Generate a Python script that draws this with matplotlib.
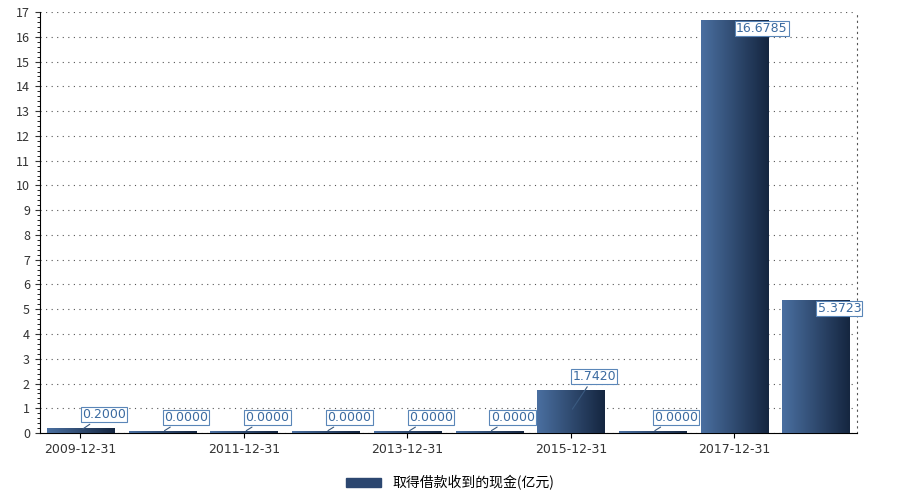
import numpy as np
import matplotlib.pyplot as plt
from matplotlib.colors import LinearSegmentedColormap
from matplotlib.ticker import MultipleLocator

plt.rcParams['font.family'] = ['Noto Sans CJK SC', 'DejaVu Sans']

dates = ["2009-12-31", "2010-12-31", "2011-12-31", "2012-12-31", "2013-12-31",
         "2014-12-31", "2015-12-31", "2016-12-31", "2017-12-31", "2018-06-30"]
values = [0.2000, 0.0000, 0.0000, 0.0000, 0.0000, 0.0000, 1.7420, 0.0000, 16.6785, 5.3723]
series_name = "取得借款收到的现金(亿元)"

fig = plt.figure(figsize=(9, 5.03), dpi=100)
ax = fig.add_axes([0.044, 0.139, 0.908, 0.837])

cmap = LinearSegmentedColormap.from_list("g", ["#4a6fa0", "#152640"])
grad = np.linspace(0, 1, 100).reshape(1, -1)
x = np.arange(len(values))
w = 0.82
for xi, v in zip(x, values):
    h = max(v, 0.08)
    bar = ax.bar(xi, h, width=w, color="#2c4770", zorder=2)[0]
    im = ax.imshow(grad, cmap=cmap, aspect="auto", extent=(xi - w/2, xi + w/2, 0, h), zorder=3)
    im.set_clip_path(bar)
    if v > 3:
        ty = v - 0.35
        arrow = None
    else:
        ty = h + 0.55
        arrow = dict(arrowstyle="-", color="#3a5a80", lw=0.8)
    ax.annotate(f"{v:.4f}", xy=(xi, h / 2), xytext=(xi + 0.02, ty), va="center",
                fontsize=9, color="#3a6aa0", family="DejaVu Sans",
                bbox=dict(boxstyle="square,pad=0.1", fc="white", ec="#5a86b8", lw=0.8),
                arrowprops=arrow, zorder=4)

ax.set_xlim(-0.5, len(values) - 0.5)
ax.set_ylim(0, 17)
ax.yaxis.set_major_locator(MultipleLocator(1))
ax.yaxis.set_minor_locator(MultipleLocator(0.2))
ax.set_xticks(x[::2])
ax.set_xticklabels(dates[::2], fontsize=9, family="DejaVu Sans", color="#333333")
ax.tick_params(axis="y", labelsize=9, colors="#333333")
ax.grid(axis="y", linestyle=(0, (1, 4)), color="#555555", lw=0.8, zorder=0)
ax.spines["top"].set_visible(False)
ax.spines["right"].set_linestyle((0, (1, 4)))
ax.spines["right"].set_color("#555555")

h = plt.Rectangle((0, 0), 1, 1, color="#2c4770")
fig.legend([h], [series_name], loc="lower center", bbox_to_anchor=(0.5, 0.0),
           frameon=False, fontsize=10, handlelength=2.5, handleheight=0.6)
fig.savefig("out.png")
